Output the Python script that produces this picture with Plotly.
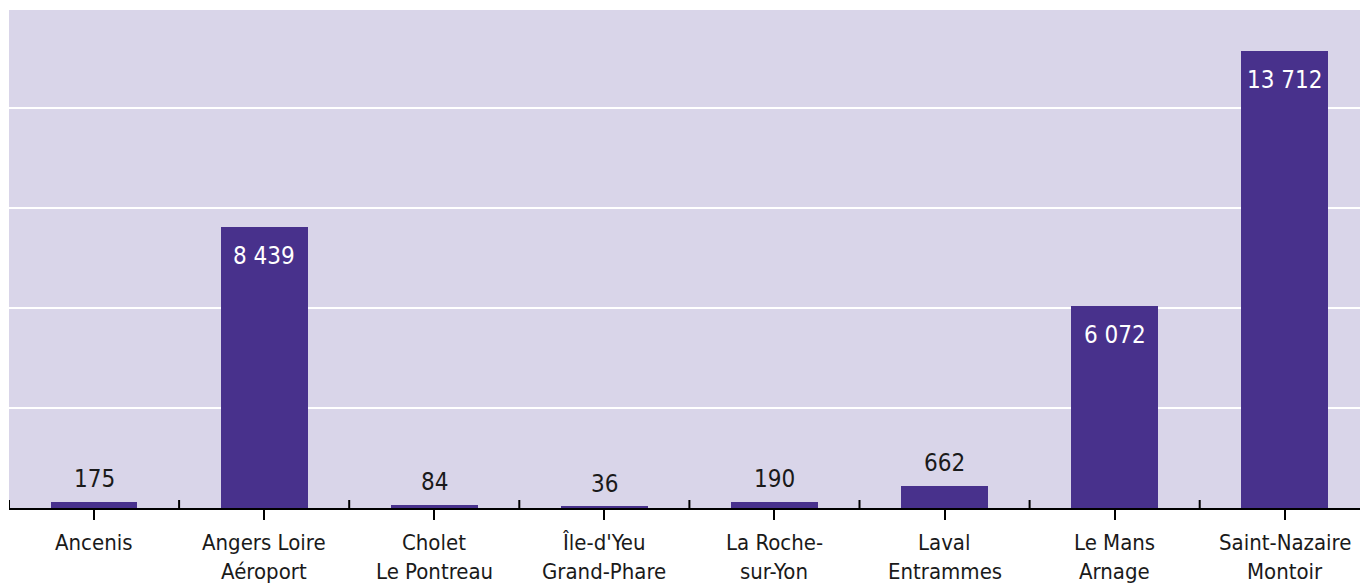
import plotly.graph_objects as go

categories = ["Ancenis", "Angers Loire<br>Aéroport", "Cholet<br>Le Pontreau",
              "Île-d'Yeu<br>Grand-Phare", "La Roche-<br>sur-Yon", "Laval<br>Entrammes",
              "Le Mans<br>Arnage", "Saint-Nazaire<br>Montoir"]
values = [175, 8439, 84, 36, 190, 662, 6072, 13712]
value_labels = ["175", "8 439", "84", "36", "190", "662", "6 072", "13 712"]

FONT = "DejaVu Sans Condensed, DejaVu Sans, sans-serif"
BAR = "#48318c"
BG = "#d9d5e9"
TXT = "#1a1a1a"
YMAX = 14940
INSIDE_MIN = 3000

fig = go.Figure()
fig.add_trace(go.Bar(
    x=list(range(len(categories))), y=values, width=0.51,
    marker=dict(color=BAR, line=dict(width=0)),
    hoverinfo="skip",
))

for i, (v, lab) in enumerate(zip(values, value_labels)):
    inside = v >= INSIDE_MIN
    fig.add_annotation(
        x=i, y=v, xref="x", yref="y", text=lab, showarrow=False,
        yanchor="middle", yshift=-29 if inside else 23,
        font=dict(family=FONT, size=24, color="white" if inside else TXT),
    )

# category labels, one annotation per line for the wider line spacing
for i, cat in enumerate(categories):
    for k, line in enumerate(cat.split("<br>")):
        fig.add_annotation(
            x=i, y=0, xref="x", yref="paper", text=line, showarrow=False,
            yanchor="middle", yshift=-34 - 29 * k,
            font=dict(family=FONT, size=22, color=TXT),
        )

# upper half of the crossing tick marks
for i in range(len(categories) + 1):
    fig.add_shape(type="line", xref="x", yref="y domain",
                  x0=i - 0.5, x1=i - 0.5, y0=0, y1=8 / 498,
                  line=dict(color="black", width=2))

fig.update_layout(
    width=1360, height=587,
    margin=dict(l=9, r=0, t=10, b=79),
    paper_bgcolor="white", plot_bgcolor=BG,
    showlegend=False, bargap=0,
    font=dict(family=FONT, color=TXT),
)
fig.update_xaxes(
    tickmode="array", tickvals=list(range(len(categories))),
    ticktext=categories, showticklabels=False,
    range=[-0.5, -0.5 + 1351 / 170.1],
    showline=True, linecolor="black", linewidth=2,
    ticks="outside", ticklen=10, tickwidth=2, tickcolor="black",
    showgrid=False, zeroline=False, tickson="boundaries",
)
fig.update_yaxes(
    range=[0, YMAX], dtick=3000, tick0=0, showticklabels=False,
    showgrid=True, gridcolor="white", gridwidth=2, zeroline=False, ticks="",
)

fig.write_html("out.html")
